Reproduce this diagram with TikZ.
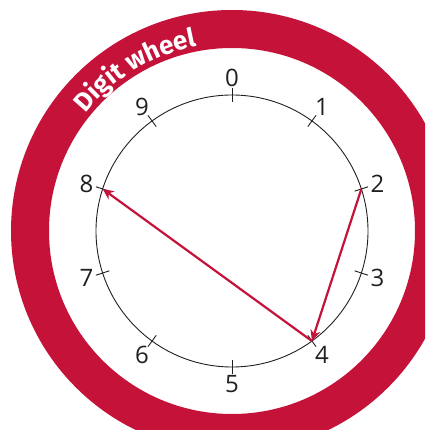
\documentclass[tikz,border=0pt]{standalone}
\usepackage{fontspec}
\setmainfont{Open Sans}
\newfontfamily\titlefont{Fira Sans}
\usepackage{xcolor}
\usetikzlibrary{arrows.meta,decorations.text}
\definecolor{wheelred}{HTML}{C41239}
\definecolor{wheelink}{HTML}{231F20}

\begin{document}
\begin{tikzpicture}[
  x=1pt,y=1pt,
  ring/.style={draw=wheelred,line width=38pt},
  dial/.style={draw=wheelink,line width=0.9pt},
  dialtick/.style={draw=wheelink,line width=0.9pt},
  digit/.style={font=\fontsize{24}{28}\selectfont,text=wheelink,inner sep=0pt},
  move/.style={-{Stealth[length=11pt,width=10pt]},draw=wheelred,line width=2.2pt}
]
\useasboundingbox (-232,-199) rectangle (193,231);
\clip (-232,-199) rectangle (193,231);

%% ---- outer ring with title ----
\draw[ring] (0,0) circle (202);
\path[decorate,decoration={text along path,text align=center,
      text={|\color{white}\titlefont\bfseries\fontsize{26}{30}\selectfont|Digit wheel}}]
  (165:188) arc[start angle=165,end angle=77,radius=188];

%% ---- dial ----
\draw[dial] (0,0) circle (136);
\foreach \i in {0,...,9}{
  \coordinate (p\i) at ({90-36*\i}:136);
  \draw[dialtick] ({90-36*\i}:129) -- ({90-36*\i}:143);
  \node[digit] (d\i) at ({90-36*\i}:153) {\i};
}

%% ---- moves ----
\draw[move] (p2) -- (p4);
\draw[move] (p4) -- (p8);

\end{tikzpicture}
\end{document}
